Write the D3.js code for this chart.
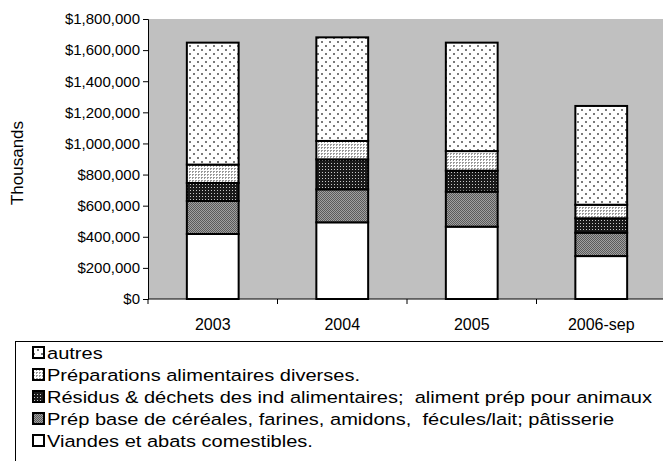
<!DOCTYPE html>
<html><head><meta charset="utf-8">
<script src="https://cdn.jsdelivr.net/npm/d3@7"></script>
<style>body{margin:0;background:#fff}svg{display:block;font-family:"Liberation Sans",Arial,sans-serif}text{white-space:pre}</style>
</head><body><svg id="c" width="663" height="461"></svg>
<script>
const categories = ["2003", "2004", "2005", "2006-sep"];
const seriesNames = [
  "Viandes et abats comestibles.",
  "Prép base de céréales, farines, amidons,  fécules/lait; pâtisserie",
  "Résidus & déchets des ind alimentaires;  aliment prép pour animaux",
  "Préparations alimentaires diverses.",
  "autres"
];
const viandes  = [418000, 493000, 465000, 276000];
const cereales = [212000, 212000, 225000, 150000];
const residus  = [116000, 193000, 135000, 93000];
const preps    = [118000, 118000, 126000, 87000];
const autres   = [784000, 666000, 697000, 635000];
const yTicks = [0, 200000, 400000, 600000, 800000, 1000000, 1200000, 1400000, 1600000, 1800000];

const seriesValues = [viandes, cereales, residus, preps, autres];
const patternIds = ["p0", "p1", "p2", "p3", "p4"];

const svg = d3.select("#c");
const defs = svg.append("defs");
function pat(id, w, h, bg, dots, col) {
  const p = defs.append("pattern").attr("id", id).attr("patternUnits", "userSpaceOnUse")
    .attr("width", w).attr("height", h);
  p.append("rect").attr("width", w).attr("height", h).attr("fill", bg);
  dots.forEach(d => p.append("rect").attr("x", d[0]).attr("y", d[1]).attr("width", d[2] || 1).attr("height", d[3] || 1).attr("fill", col));
}
pat("p0", 4, 4, "#ffffff", [], "#000");
pat("p1", 2, 2, "#a0a0a0", [[0,0],[1,1]], "#5a5a5a");
pat("p2", 3, 3, "#1a1a1a", [[1,1]], "#c8c8c8");
pat("p3", 3, 3, "#ffffff", [[0,0],[1,0],[0,1]], "#9a9a9a");
pat("p4", 8, 8, "#ffffff", [[1,1,2,2],[5,5,2,2]], "#7a7a7a");

const x = d3.scaleBand().domain(categories).range([148, 666]).paddingInner(0.6).paddingOuter(0.3);
const y = d3.scaleLinear().domain([0, 1800000]).range([299, 19]);

// plot area
svg.append("rect").attr("x", 148).attr("y", y(1800000)).attr("width", 666 - 148).attr("height", y(0) - y(1800000)).attr("fill", "#c0c0c0");

// stacked data
const table = categories.map((c, i) => {
  const o = {cat: c};
  seriesValues.forEach((s, k) => o["s" + k] = s[i]);
  return o;
});
const stack = d3.stack().keys(seriesValues.map((s, k) => "s" + k))(table);

const g = svg.append("g");
stack.forEach((layer, k) => {
  g.selectAll(null).data(layer).enter().append("rect")
    .attr("x", d => x(d.data.cat))
    .attr("y", d => y(d[1]))
    .attr("width", x.bandwidth())
    .attr("height", d => y(d[0]) - y(d[1]))
    .attr("fill", "url(#" + patternIds[k] + ")")
    .attr("stroke", "#000").attr("stroke-width", 2);
});

// y axis
const yAxis = d3.axisLeft(y).tickValues(yTicks).tickSize(5).tickPadding(3)
  .tickFormat(d => "$" + d3.format(",")(d));
const ya = svg.append("g").attr("transform", "translate(148,0)").call(yAxis);
ya.select(".domain").attr("stroke", "#000");
ya.selectAll("line").attr("stroke", "#000");
ya.selectAll("text").attr("font-size", 15).attr("font-family", "Liberation Sans, Arial").attr("fill", "#000");

// x axis
const xAxis = d3.axisBottom(x).tickSize(0).tickPadding(20);
const xa = svg.append("g").attr("transform", "translate(0,299)").call(xAxis);
xa.select(".domain").attr("stroke", "#000").attr("d", "M148,0H666");
xa.selectAll("text").attr("font-size", 16).attr("font-family", "Liberation Sans, Arial").attr("fill", "#000");
const step = x.step();
xa.selectAll(null).data(d3.range(0, categories.length + 1)).enter().append("line")
  .attr("x1", i => 148 + i * step).attr("x2", i => 148 + i * step)
  .attr("y1", 0).attr("y2", 5).attr("stroke", "#000");

// y label
svg.append("text").attr("transform", "translate(23,163) rotate(-90)").attr("text-anchor", "middle")
  .attr("font-size", 17).text("Thousands");

// legend
svg.append("rect").attr("x", 15.5).attr("y", 341.5).attr("width", 700).attr("height", 200)
  .attr("fill", "#fff").attr("stroke", "#000");
const legendOrder = [4, 3, 2, 1, 0];
const lg = svg.append("g");
legendOrder.forEach((k, i) => {
  const cy = 353 + i * 22;
  lg.append("rect").attr("x", 33).attr("y", cy - 6).attr("width", 11).attr("height", 11)
    .attr("fill", "url(#" + patternIds[k] + ")").attr("stroke", "#000").attr("stroke-width", 2);
  lg.append("text").attr("transform", "translate(47," + (cy + 6) + ") scale(1.18,1)")
    .attr("font-size", 17).text(seriesNames[k]);
});
</script></body></html>
